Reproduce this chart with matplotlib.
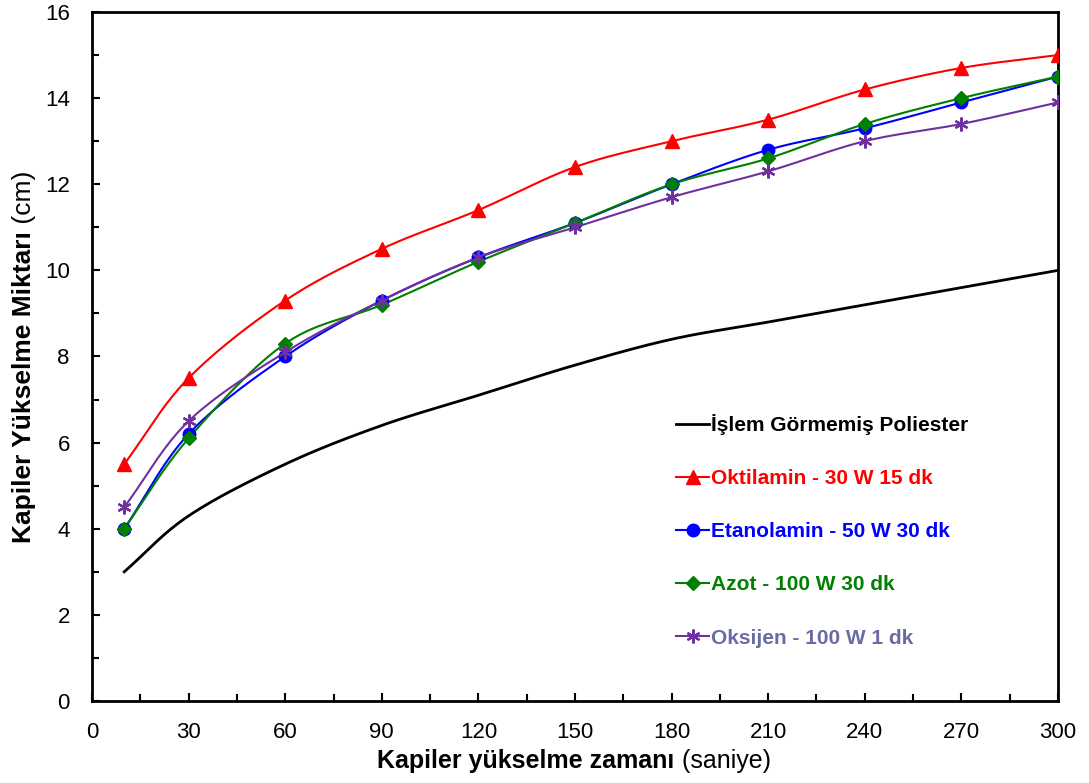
import numpy as np
import matplotlib
matplotlib.use("Agg")
import matplotlib.pyplot as plt
from matplotlib.offsetbox import TextArea, HPacker, AnchoredOffsetbox
from matplotlib.ticker import MultipleLocator

plt.rcParams['font.family'] = ['Liberation Sans', 'DejaVu Sans']

time_s = [10, 30, 60, 90, 120, 150, 180, 210, 240, 270, 300]
untreated = [3.0, 4.3, 5.5, 6.4, 7.1, 7.8, 8.4, 8.8, 9.2, 9.6, 10.0]
oktilamin = [5.5, 7.5, 9.3, 10.5, 11.4, 12.4, 13.0, 13.5, 14.2, 14.7, 15.0]
etanolamin = [4.0, 6.2, 8.0, 9.3, 10.3, 11.1, 12.0, 12.8, 13.3, 13.9, 14.5]
azot = [4.0, 6.1, 8.3, 9.2, 10.2, 11.1, 12.0, 12.6, 13.4, 14.0, 14.5]
oksijen = [4.5, 6.5, 8.1, 9.3, 10.3, 11.0, 11.7, 12.3, 13.0, 13.4, 13.9]

labels = ["İşlem Görmemiş Poliester", "Oktilamin - 30 W 15 dk",
          "Etanolamin - 50 W 30 dk", "Azot - 100 W 30 dk", "Oksijen - 100 W 1 dk"]
xticks = [0, 30, 60, 90, 120, 150, 180, 210, 240, 270, 300]
yticks = [0, 2, 4, 6, 8, 10, 12, 14, 16]


def smooth(x, y, n=20):
    # Catmull-Rom style smoothing (like spreadsheet "smoothed line")
    x = np.asarray(x, float); y = np.asarray(y, float)
    P = np.column_stack([x, y])
    P = np.vstack([2 * P[0] - P[1], P, 2 * P[-1] - P[-2]])
    out = []
    t = np.linspace(0, 1, n, endpoint=False)[:, None]
    for i in range(1, len(P) - 2):
        p0, p1, p2, p3 = P[i - 1], P[i], P[i + 1], P[i + 2]
        seg = 0.5 * ((2 * p1) + (-p0 + p2) * t + (2 * p0 - 5 * p1 + 4 * p2 - p3) * t ** 2
                     + (-p0 + 3 * p1 - 3 * p2 + p3) * t ** 3)
        out.append(seg)
    out.append(P[-2][None, :])
    S = np.vstack(out)
    return S[:, 0], S[:, 1]


fig = plt.figure(figsize=(10.89, 7.83), dpi=100)
ax = fig.add_axes([0.0845, 0.1047, 0.8870, 0.8800])

series = [
    (untreated, 'black', None, 0, 'black'),
    (oktilamin, '#ff0000', '^', 10, '#ff0000'),
    (etanolamin, '#0000ff', 'o', 9, '#0000ff'),
    (azot, '#008000', 'D', 7, '#008000'),
    (oksijen, '#7030a0', (6, 2, 0), 10, '#6b6ba3'),
]
handles = []
for (vals, col, mk, ms, tcol), lab in zip(series, labels):
    sx, sy = smooth(time_s, vals)
    lw = 2.0 if mk is None else 1.5
    mew = 1.6 if mk == (6, 2, 0) else 1
    ax.plot(sx, sy, color=col, lw=lw, zorder=2)
    if mk is not None:
        ax.plot(time_s, vals, linestyle='none', marker=mk, markersize=ms,
                color=col, markeredgecolor=col, markeredgewidth=mew, zorder=3)
    h, = ax.plot([], [], color=col, lw=lw, marker=mk, markersize=ms, markeredgewidth=mew)
    handles.append(h)

ax.set_xlim(0, 300)
ax.set_ylim(0, 16)
ax.set_xticks(xticks)
ax.set_yticks(yticks)
ax.xaxis.set_minor_locator(MultipleLocator(15))
ax.yaxis.set_minor_locator(MultipleLocator(1))
ax.tick_params(axis='both', which='both', direction='in', labelsize=16, width=1.5)
ax.tick_params(axis='both', which='major', length=6)
ax.tick_params(axis='both', which='minor', length=5)
ax.tick_params(axis='x', pad=15)
ax.tick_params(axis='y', pad=16)
for sp in ax.spines.values():
    sp.set_linewidth(2)

leg = ax.legend(handles, labels, loc='upper left', bbox_to_anchor=(676 / 1089, 1 - 414 / 783),
                bbox_transform=fig.transFigure, frameon=False, handlelength=1.6,
                handletextpad=0.1, labelspacing=1.64, borderpad=0, borderaxespad=0,
                prop={'weight': 'bold', 'size': 15})
for txt, (_, _, _, _, tcol) in zip(leg.get_texts(), series):
    txt.set_color(tcol)

# x label: bold part + regular part
xb = TextArea("Kapiler yükselme zamanı", textprops=dict(weight='bold', size=18))
xr = TextArea(" (saniye)", textprops=dict(size=18))
xbox = HPacker(children=[xb, xr], align='baseline', pad=0, sep=0)
ab = AnchoredOffsetbox(loc='center', child=xbox, frameon=False,
                       bbox_to_anchor=(574 / 1089, 1 - 761 / 783), bbox_transform=fig.transFigure,
                       pad=0, borderpad=0)
fig.add_artist(ab)

# y label: bold part + regular part, rotated
t1 = fig.text(24 / 1089, 1 - 543 / 783, "Kapiler Yükselme Miktarı", rotation=90,
              ha='center', va='bottom', weight='bold', size=19)
fig.canvas.draw()
bb = t1.get_window_extent()
fig.text(24 / 1089, bb.y1 / fig.bbox.height, " (cm)", rotation=90, ha='center', va='bottom', size=19)

fig.savefig("out.png", dpi=100)
